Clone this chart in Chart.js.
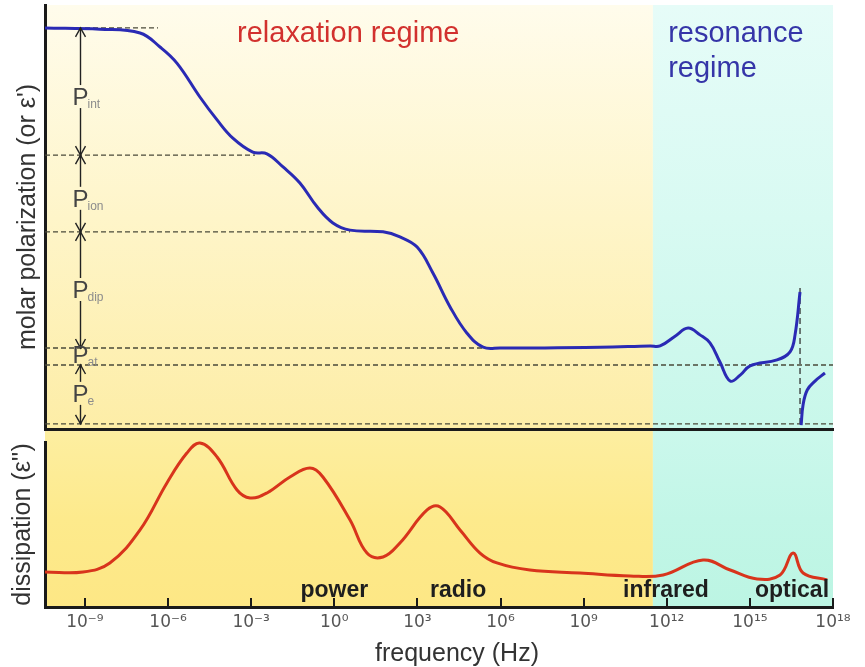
<!DOCTYPE html>
<html><head><meta charset="utf-8">
<script src="https://cdn.jsdelivr.net/npm/chart.js@4"></script>
<style>
html,body{margin:0;padding:0;background:#fff;}
#wrap{position:relative;width:865px;height:667px;overflow:hidden;}
#top{position:absolute;left:0;top:0;}
#bot{position:absolute;left:0;top:432px;}
</style></head><body>
<div id="wrap"><canvas id="top" width="865" height="432"></canvas><canvas id="bot" width="865" height="235"></canvas></div>
<script>
// ---- axis range (log10 of frequency in Hz) ----
const X_MIN = -10.44, X_MAX = 18;
const RESONANCE_START = 11.5;           // boundary relaxation / resonance regime (log10 Hz)

// ---- x tick marks and labels ----
const tickExponents = [-9, -6, -3, 0, 3, 6, 9, 12, 15, 18];
const tickLabels = ['10⁻⁹','10⁻⁶','10⁻³','10⁰','10³','10⁶','10⁹','10¹²','10¹⁵','10¹⁸'];

// ---- molar polarization (real part) ----
const polFreq  = [-10.44,-8.46,-7.01,-6.29,-5.68,-4.85,-4.23,-3.66,-2.94,-2.43,-1.85,-1.24,-0.62,-0.05,0.57,1.76,2.37,2.99,3.56,4.18,4.79,5.37,5.98,9.59,11.4,11.76,12.3,12.77,13.2,13.56,13.92,14.29,14.65,15.01,15.98,16.45,16.63,16.81,16.83,16.85,16.92,17.07,17.35,17.71];
const polValue = [94.6,94.3,93.4,90.1,86.3,78.3,72.9,68.6,65.3,64.9,61.8,58.0,52.4,48.6,46.9,46.5,45.3,42.9,36.8,28.8,22.6,19.3,19.1,19.3,19.6,19.6,21.9,23.8,22.2,20.3,15.8,11.3,12.7,14.9,16.3,18.2,22.2,32.3,null,0.9,5.7,9.2,11.3,13.2];

// ---- dissipation (imaginary part) ----
const dissFreq  = [-10.44,-9.07,-8.1,-7.01,-6.04,-5.32,-4.85,-4.23,-3.51,-3.04,-2.43,-1.6,-0.88,-0.41,0.57,1.18,1.76,2.37,3.35,3.82,4.54,5.26,5.87,7.06,8.87,10.67,11.87,13.31,14.29,15.26,16.09,16.56,16.92,17.79];
const dissValue = [21.2,21.2,26.7,46.7,75.2,93.3,99.4,90.9,70.9,66.1,69.1,78.8,84.2,78.8,52.7,32.7,30.3,38.8,58.8,60.6,46.7,32.7,26.7,22.4,20.6,18.8,19.4,28.5,22.4,17.0,19.4,32.7,20.6,16.4];

// ---- polarization levels (dashed guides) and their extents ----
const levels    = [94.6, 64.6, 46.5, 19.1, 15.1, 1.2];
const levelEnds = [-6.36, -2.86, 0.57, 5.87, 18, 18];
const resonanceMarkX = 16.81;
const resonanceMarkY = [1.2, 33.5];

// ---- polarization component labels ----
const componentSubs = ['int', 'ion', 'dip', 'at', 'e'];
const componentBase = [76.4, 52.4, 30.9, 15.6, 6.4];
const componentX = -9.18;

// ---- regime captions ----
const regimeTexts = [
  {text:'relaxation regime', x:-3.51, y:91.3, color:'#d2312e'},
  {text:'resonance', x:12.05, y:91.3, color:'#3535a8'},
  {text:'regime', x:12.05, y:83.0, color:'#3535a8'}
];

// ---- spectral band labels ----
const bandLabels = ['power', 'radio', 'infrared', 'optical'];
const bandFreq   = [0, 4.47, 11.97, 16.52];
const bandBase   = 6.1;

Chart.defaults.font.family = "'Liberation Sans', Arial, Helvetica, sans-serif";
Chart.defaults.animation = false;

const bgPlugin = {
  id: 'bg',
  beforeDraw(chart, args, o) {
    const {ctx, chartArea: a, scales: {x}} = chart;
    const top = o.extendTop ? 0 : a.top;
    const bottom = o.extendBottom ? chart.height : a.bottom;
    const xs = x.getPixelForValue(RESONANCE_START);
    const gy = ctx.createLinearGradient(0, top, 0, bottom);
    o.yellow.forEach((c, i) => gy.addColorStop(i / (o.yellow.length - 1), c));
    const gc = ctx.createLinearGradient(0, top, 0, bottom);
    o.cyan.forEach((c, i) => gc.addColorStop(i / (o.cyan.length - 1), c));
    ctx.save();
    ctx.fillStyle = gy; ctx.fillRect(a.left, top, xs - a.left, bottom - top);
    ctx.fillStyle = gc; ctx.fillRect(xs, top, a.right - xs, bottom - top);
    ctx.restore();
  }
};

function arrowHead(ctx, x, y, dir) {
  ctx.beginPath();
  ctx.moveTo(x - 5, y - dir * 9); ctx.lineTo(x, y); ctx.lineTo(x + 5, y - dir * 9);
  ctx.stroke();
}

const topAnno = {
  id: 'topAnno',
  afterDatasetsDraw(chart) {
    const {ctx, scales: {x, y}} = chart;
    ctx.save();
    ctx.font = "29px 'Liberation Sans', Arial, sans-serif";
    ctx.textAlign = 'left'; ctx.textBaseline = 'alphabetic';
    regimeTexts.forEach(t => { ctx.fillStyle = t.color; ctx.fillText(t.text, x.getPixelForValue(t.x), y.getPixelForValue(t.y)); });

    const ax = Math.round(x.getPixelForValue(componentX)) + 0.5;
    ctx.strokeStyle = '#222'; ctx.lineWidth = 1.4;
    componentSubs.forEach((sub, i) => {
      const top = y.getPixelForValue(levels[i]);
      const bot = y.getPixelForValue(levels[i + 1]);
      const base = y.getPixelForValue(componentBase[i]);
      const lt = base - 20, lb = base + 3;
      if (lt - top > 2) { ctx.beginPath(); ctx.moveTo(ax, top); ctx.lineTo(ax, lt); ctx.stroke(); }
      if (bot - lb > 2) { ctx.beginPath(); ctx.moveTo(ax, lb); ctx.lineTo(ax, bot); ctx.stroke(); }
      if (bot - top > 30) { arrowHead(ctx, ax, top, -1); arrowHead(ctx, ax, bot, 1); }
      ctx.fillStyle = '#444';
      ctx.font = "24px 'Liberation Sans', Arial, sans-serif";
      ctx.textAlign = 'center';
      ctx.fillText('P', ax, base);
      ctx.fillStyle = '#8c8c8c';
      ctx.font = "12px 'Liberation Sans', Arial, sans-serif";
      ctx.textAlign = 'left';
      ctx.fillText(sub, ax + 7, base + 3);
    });
    ctx.restore();
  }
};

const botAnno = {
  id: 'botAnno',
  afterDraw(chart) {
    const {ctx, chartArea: a, scales: {x, y}} = chart;
    ctx.save();
    ctx.strokeStyle = '#1a1a1a'; ctx.lineWidth = 2;
    tickExponents.forEach(v => {
      const px = Math.round(x.getPixelForValue(v));
      ctx.beginPath(); ctx.moveTo(px, a.bottom); ctx.lineTo(px, a.bottom - 9); ctx.stroke();
    });
    ctx.fillStyle = '#1e1e1e';
    ctx.font = "bold 23px 'Liberation Sans', Arial, sans-serif";
    ctx.textAlign = 'center'; ctx.textBaseline = 'alphabetic';
    bandLabels.forEach((t, i) => ctx.fillText(t, x.getPixelForValue(bandFreq[i]), y.getPixelForValue(bandBase)));
    ctx.fillStyle = '#333';
    ctx.font = "25px 'Liberation Sans', Arial, sans-serif";
    ctx.fillText('frequency (Hz)', (a.left + a.right) / 2 + 18, a.bottom + 54);
    ctx.restore();
  }
};

const frame = {display: true, width: 3, color: '#1a1a1a'};

new Chart(document.getElementById('top'), {
  type: 'line',
  data: {datasets: [
    {data: polFreq.map((f, i) => ({x: f, y: polValue[i]})), borderColor: '#2a2ab4', borderWidth: 3,
     pointRadius: 0, tension: 0.4, spanGaps: false, order: 0},
    ...levels.map((L, i) => ({data: [{x: X_MIN, y: L}, {x: levelEnds[i], y: L}], borderColor: '#4a4a3a',
     borderWidth: 1.3, borderDash: [5, 3], pointRadius: 0, order: 1})),
    {data: resonanceMarkY.map(v => ({x: resonanceMarkX, y: v})), borderColor: '#333', borderWidth: 1.3,
     borderDash: [6, 4], pointRadius: 0, order: 1}
  ]},
  options: {
    responsive: false, animation: false, events: [],
    layout: {padding: {left: 0, right: 32, top: 5, bottom: 3}},
    plugins: {legend: {display: false}, tooltip: {enabled: false},
      bg: {extendBottom: true, yellow: ['#fffcec', '#fef5c9', '#fdeda6'], cyan: ['#e6fcf8', '#d8faf2', '#c8f7ea']}},
    scales: {
      x: {type: 'linear', min: X_MIN, max: X_MAX, ticks: {display: false}, grid: {display: false, drawTicks: false},
          border: frame, afterFit: s => { s.height = 0; }},
      y: {type: 'linear', min: 0, max: 100, ticks: {display: false}, grid: {display: false, drawTicks: false},
          border: frame, afterFit: s => { s.width = 45; },
          title: {display: true, text: "molar polarization (or ε')", color: '#333', font: {size: 25}, padding: {top: 13, bottom: 0}}}
    }
  },
  plugins: [bgPlugin, topAnno]
});

new Chart(document.getElementById('bot'), {
  type: 'line',
  data: {datasets: [
    {data: dissFreq.map((f, i) => ({x: f, y: dissValue[i]})), borderColor: '#d8341c', borderWidth: 3,
     pointRadius: 0, tension: 0.4, clip: false}
  ]},
  options: {
    responsive: false, animation: false, events: [],
    layout: {padding: {left: 0, right: 32, top: 10, bottom: 0}},
    plugins: {legend: {display: false}, tooltip: {enabled: false},
      bg: {extendTop: true, yellow: ['#fdeea0', '#fdea8c', '#fde785'], cyan: ['#cbf8ec', '#c2f6e7', '#bcf5e3']}},
    scales: {
      x: {type: 'linear', min: X_MIN, max: X_MAX,
          afterBuildTicks: s => { s.ticks = tickExponents.map(v => ({value: v})); },
          ticks: {autoSkip: false, maxRotation: 0, padding: 5, color: '#555', font: {size: 17, family: "'DejaVu Sans', 'Liberation Sans', sans-serif"},
                  callback: (v, i) => tickLabels[i]},
          grid: {display: false, drawTicks: false}, border: frame, afterFit: s => { s.height = 60; }},
      y: {type: 'linear', min: 0, max: 100, ticks: {display: false}, grid: {display: false, drawTicks: false},
          border: frame, afterFit: s => { s.width = 45; },
          title: {display: true, text: "dissipation (ε'')", color: '#333', font: {size: 25}, padding: {top: 8, bottom: 0}}}
    }
  },
  plugins: [bgPlugin, botAnno]
});
</script>
</body></html>
